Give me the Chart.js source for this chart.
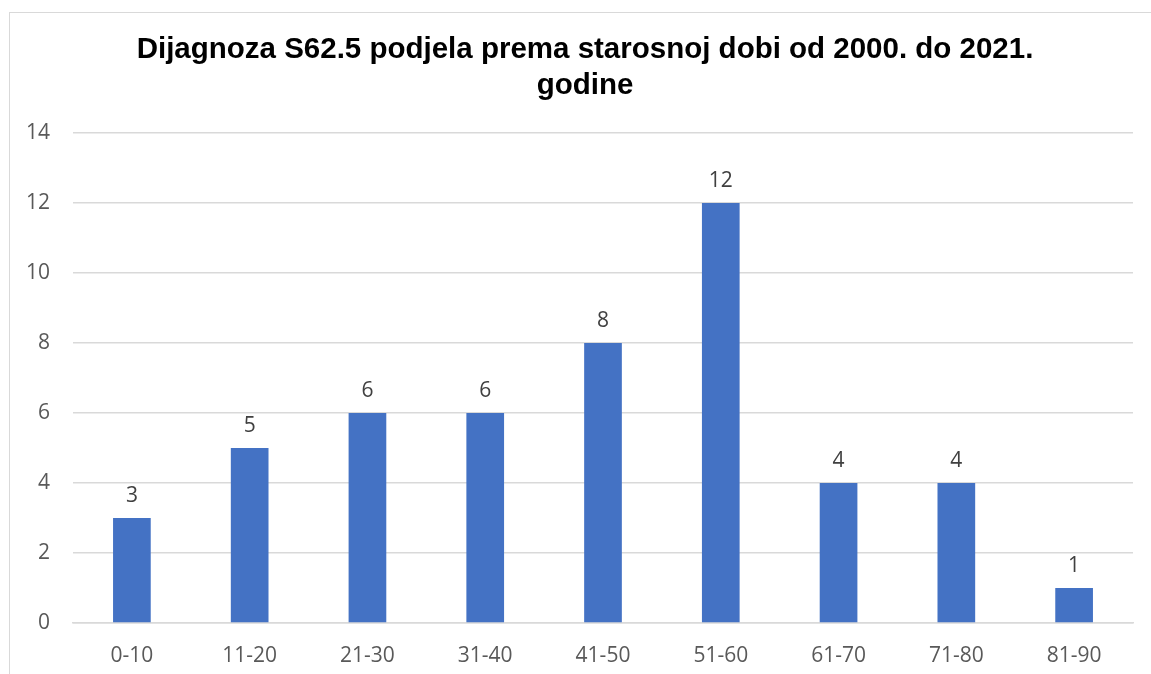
<!DOCTYPE html>
<html>
<head>
<meta charset="utf-8">
<script src="https://cdn.jsdelivr.net/npm/chart.js@4.4.0/dist/chart.umd.min.js"></script>
<style>
  html, body { margin: 0; padding: 0; background: #fff; overflow: hidden; }
  #frame {
    position: absolute; left: 9px; top: 12px;
    width: 1160px; height: 700px;
    border: 1px solid #d9d9d9;
  }
  #wrap { position: absolute; left: 0; top: 0; width: 1151px; height: 674px; }
</style>
</head>
<body>
<div id="frame"></div>
<div id="wrap"><canvas id="chart"></canvas></div>
<script>
// age groups and counts
const ageGroups = ['0-10', '11-20', '21-30', '31-40', '41-50', '51-60', '61-70', '71-80', '81-90'];
const counts = [3, 5, 6, 6, 8, 12, 4, 4, 1];
const titleLines = ['Dijagnoza S62.5 podjela prema starosnoj dobi od 2000. do 2021.', 'godine'];

// draw value labels above each bar
const valueLabels = {
    id: 'valueLabels',
    afterDatasetsDraw(chart) {
        const ctx = chart.ctx;
        const meta = chart.getDatasetMeta(0);
        ctx.save();
        ctx.font = '21px "Open Sans"';
        ctx.fillStyle = '#404040';
        ctx.textAlign = 'center';
        ctx.textBaseline = 'alphabetic';
        meta.data.forEach((bar, i) => {
            ctx.fillText(counts[i], bar.x, bar.y - 16);
        });
        ctx.restore();
    }
};

// title centred on the outer frame rather than the plot
const frameTitle = {
    id: 'frameTitle',
    afterDraw(chart) {
        const ctx = chart.ctx;
        ctx.save();
        ctx.font = 'bold 29.5px "Liberation Sans", Arial, sans-serif';
        ctx.fillStyle = '#000';
        ctx.textAlign = 'center';
        ctx.textBaseline = 'middle';
        titleLines.forEach((line, i) => {
            ctx.fillText(line, 585, 50 + i * 36);
        });
        ctx.restore();
    }
};

new Chart(document.getElementById('chart'), {
    type: 'bar',
    data: {
        labels: ageGroups,
        datasets: [{
            data: counts,
            backgroundColor: '#4472C4',
            barPercentage: 0.32,
            categoryPercentage: 1
        }]
    },
    options: {
        responsive: true,
        maintainAspectRatio: false,
        animation: false,
        layout: { padding: { left: 0, right: 18, top: 133, bottom: 0 } },
        plugins: {
            legend: { display: false },
            tooltip: { enabled: false },
            title: { display: false }
        },
        scales: {
            x: {
                afterFit(scale) { scale.height = 51; },
                grid: { display: false, drawTicks: false },
                border: { color: '#d9d9d9', width: 1.5 },
                ticks: { color: '#595959', font: { family: '"Open Sans"', size: 21 }, padding: 20 }
            },
            y: {
                min: 0,
                max: 14,
                afterFit(scale) { scale.width = 73; },
                grid: { color: '#d9d9d9', lineWidth: 1.5, drawTicks: false },
                border: { display: false },
                ticks: { stepSize: 2, color: '#595959', font: { family: '"Open Sans"', size: 21 }, padding: 23 }
            }
        }
    },
    plugins: [valueLabels, frameTitle]
});
</script>
</body>
</html>
